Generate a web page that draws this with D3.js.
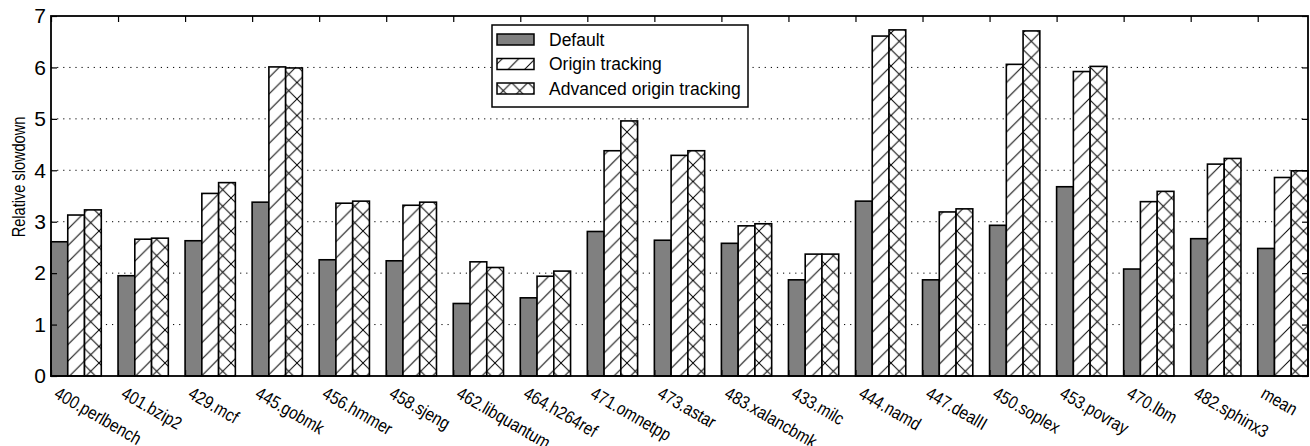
<!DOCTYPE html>
<html>
<head>
<meta charset="utf-8">
<script src="https://cdn.jsdelivr.net/npm/d3@7"></script>
<style>
  html, body { margin: 0; padding: 0; background: #fff; }
  svg { display: block; }
  text { font-family: "Liberation Sans", Arial, sans-serif; fill: #000; }
</style>
</head>
<body>
<div id="chart"></div>
<script>
const categories = ["400.perlbench","401.bzip2","429.mcf","445.gobmk","456.hmmer","458.sjeng","462.libquantum","464.h264ref","471.omnetpp","473.astar","483.xalancbmk","433.milc","444.namd","447.dealII","450.soplex","453.povray","470.lbm","482.sphinx3","mean"];
const seriesNames = ["Default","Origin tracking","Advanced origin tracking"];
const defaultValues  = [2.61,1.95,2.63,3.38,2.26,2.24,1.41,1.52,2.81,2.64,2.58,1.87,3.40,1.87,2.93,3.68,2.08,2.67,2.48];
const originValues   = [3.13,2.66,3.55,6.01,3.36,3.32,2.22,1.94,4.38,4.29,2.92,2.37,6.61,3.19,6.06,5.92,3.39,4.12,3.86];
const advancedValues = [3.23,2.68,3.76,5.99,3.40,3.38,2.11,2.04,4.96,4.38,2.96,2.37,6.73,3.25,6.71,6.02,3.59,4.23,3.99];
const yTicks = [0,1,2,3,4,5,6,7];
const yLabel = "Relative slowdown";

(function () {
const W = 1310, H = 446;
const pLeft = 51, pRight = 1308, pTop = 16, pBottom = 376;
const barW = 0.25;

const svg = d3.select("#chart").append("svg").attr("width", W).attr("height", H);

const x = d3.scaleLinear().domain([0, categories.length - 1 + 3 * barW]).range([pLeft, pRight]);
const y = d3.scaleLinear().domain([0, 7]).range([pBottom, pTop]);

// patterns
const P = 16.5;
const defs = svg.append("defs");
const pd = defs.append("pattern").attr("id", "hdiag").attr("patternUnits", "userSpaceOnUse")
  .attr("width", P).attr("height", P);
pd.append("rect").attr("width", P).attr("height", P).attr("fill", "#fff");
pd.append("path").attr("d", `M-2,2 L2,-2 M0,${P} L${P},0 M${P-2},${P+2} L${P+2},${P-2}`)
  .attr("stroke", "#000").attr("stroke-width", 1).attr("fill", "none");
const pc = defs.append("pattern").attr("id", "hcross").attr("patternUnits", "userSpaceOnUse")
  .attr("width", P).attr("height", P);
pc.append("rect").attr("width", P).attr("height", P).attr("fill", "#fff");
pc.append("path").attr("d", `M-2,2 L2,-2 M0,${P} L${P},0 M${P-2},${P+2} L${P+2},${P-2} M-2,${P-2} L2,${P+2} M0,0 L${P},${P} M${P-2},-2 L${P+2},2`)
  .attr("stroke", "#000").attr("stroke-width", 1).attr("fill", "none");

const fills = ["#808080", "url(#hdiag)", "url(#hcross)"];
const series = [defaultValues, originValues, advancedValues];

// gridlines
svg.append("g").selectAll("line").data(yTicks.filter(t => t > 0 && t < 7)).join("line")
  .attr("x1", pLeft).attr("x2", pRight).attr("y1", d => y(d)).attr("y2", d => y(d))
  .attr("stroke", "#000").attr("stroke-width", 1).attr("stroke-dasharray", "1.2,4.9");

// bars
series.forEach((vals, s) => {
  svg.append("g").selectAll("rect").data(vals).join("rect")
    .attr("x", (d, i) => x(i + s * barW))
    .attr("width", x(barW) - x(0))
    .attr("y", d => y(d))
    .attr("height", d => y(0) - y(d))
    .attr("fill", fills[s]).attr("stroke", "#000").attr("stroke-width", 1.6);
});

// axes (inward ticks)
const axL = svg.append("g").attr("transform", `translate(${pLeft},0)`)
  .call(d3.axisLeft(y).tickValues(yTicks).tickSize(-6).tickPadding(5).tickFormat(d3.format("d")));
const axR = svg.append("g").attr("transform", `translate(${pRight},0)`)
  .call(d3.axisRight(y).tickValues(yTicks).tickSize(-6).tickFormat(""));
const xt = d3.range(categories.length);
const axB = svg.append("g").attr("transform", `translate(0,${pBottom})`)
  .call(d3.axisBottom(x).tickValues(xt).tickSize(-6).tickFormat(""));
const axT = svg.append("g").attr("transform", `translate(0,${pTop})`)
  .call(d3.axisTop(x).tickValues(xt).tickSize(-6).tickFormat(""));
[axL, axR, axB, axT].forEach(a => {
  a.select(".domain").remove();
  a.selectAll(".tick line").attr("stroke", "#000").attr("stroke-width", 1.2);
});
axL.selectAll(".tick text").attr("font-size", 21).attr("font-family", "Liberation Sans, Arial, sans-serif").attr("fill", "#000");

// frame
svg.append("rect").attr("x", pLeft).attr("y", pTop).attr("width", pRight - pLeft).attr("height", pBottom - pTop)
  .attr("fill", "none").attr("stroke", "#000").attr("stroke-width", 1.8);

// x labels rotated
svg.append("g").selectAll("text").data(categories).join("text")
  .attr("transform", (d, i) => `translate(${x(i) + 10},${pBottom + 7}) rotate(30) scale(0.85,1)`)
  .attr("dominant-baseline", "text-before-edge")
  .attr("font-size", 18)
  .text(d => d);

// y label
svg.append("text").attr("transform", `translate(25,177) rotate(-90) scale(0.81,1)`)
  .attr("text-anchor", "middle").attr("font-size", 18).text(yLabel);

// legend
const lg = svg.append("g");
lg.append("rect").attr("x", 492).attr("y", 25).attr("width", 256).attr("height", 82)
  .attr("fill", "#fff").attr("stroke", "#000").attr("stroke-width", 1.5);
seriesNames.forEach((name, s) => {
  const cy = 39.5 + s * 24.5;
  lg.append("rect").attr("x", 497).attr("y", cy - 5.5).attr("width", 37).attr("height", 11)
    .attr("fill", fills[s]).attr("stroke", "#000").attr("stroke-width", 1.5);
  lg.append("text").attr("x", 549).attr("y", cy).attr("dominant-baseline", "central")
    .attr("font-size", 17.5).text(name);
});
})();
</script>
</body>
</html>
